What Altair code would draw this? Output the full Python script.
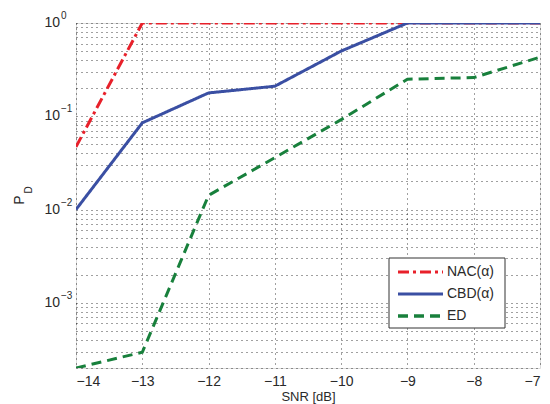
import altair as alt
import pandas as pd

snr = [-14, -13, -12, -11, -10, -9, -8, -7]
nac = [0.047, 1.0, 1.0, 1.0, 1.0, 1.0, 1.0, 1.0]
cbd = [0.0100, 0.085, 0.178, 0.21, 0.50, 1.0, 1.0, 1.0]
ed = [0.000200, 0.000295, 0.0142, 0.036, 0.092, 0.25, 0.26, 0.43]

series = ["NAC(\u03b1)", "CBD(\u03b1)", "ED"]
colors = ["#e8202a", "#3a4fa3", "#18803c"]
dashes = [[11, 4, 3, 4], [1, 0], [10, 6]]
widths = [3, 3, 3.5]

x_ticks = [-14, -13, -12, -11, -10, -9, -8, -7]
y_ticks = [m * 10.0 ** e for e in (-4, -3, -2, -1) for m in range(1, 10)] + [1.0]
y_ticks = [v for v in y_ticks if v >= 2e-4]
label_exps = ["0", "\u22121", "\u22122", "\u22123"]
label_vals = [1.0, 0.1, 0.01, 0.001]

rows = []
for name, vals in zip(series, [nac, cbd, ed]):
    for x, y in zip(snr, vals):
        rows.append({"snr": x, "pd": y, "series": name})
df = pd.DataFrame(rows)

W, H = 464, 345
FONT = "Liberation Sans"
TXT = "#2a2a2a"
xscale = alt.Scale(domain=[-14, -7], nice=False, zero=False)
yscale = alt.Scale(type="log", domain=[2e-4, 1], nice=False)

grid_axis_y = alt.Axis(values=y_ticks, labels=False, ticks=False, domain=False,
                       grid=True, gridColor="#000000", gridDash=[1, 4],
                       gridOpacity=0.75, gridWidth=1, title=None)

lines = alt.Chart(df).mark_line(clip=True).encode(
    x=alt.X("snr:Q", scale=xscale,
            axis=alt.Axis(values=x_ticks, title="SNR [dB]", grid=True,
                          gridColor="#000000", gridDash=[1, 4], gridOpacity=0.75,
                          labelFontSize=14, titleFontSize=13, titleFontWeight="normal",
                          labelColor=TXT, titleColor=TXT,
                          ticks=False, domain=False, labelPadding=6, titlePadding=2,
                          labelFont=FONT, titleFont=FONT)),
    y=alt.Y("pd:Q", scale=yscale, axis=grid_axis_y),
    color=alt.Color("series:N", scale=alt.Scale(domain=series, range=colors), legend=None),
    strokeDash=alt.StrokeDash("series:N", scale=alt.Scale(domain=series, range=dashes),
                              legend=None),
    strokeWidth=alt.StrokeWidth("series:N", scale=alt.Scale(domain=series, range=widths),
                                legend=None),
    detail="series:N",
)

lab_df = pd.DataFrame({"v": label_vals, "e": label_exps})
one = pd.DataFrame({"k": [0]})

ten = alt.Chart(lab_df).mark_text(align="right", baseline="middle", fontSize=14,
                                  font=FONT, color=TXT).encode(
    x=alt.value(-16), y=alt.Y("v:Q", scale=yscale), text=alt.value("10"))
exp = alt.Chart(lab_df).mark_text(align="left", baseline="middle", fontSize=10,
                                  font=FONT, color=TXT, dy=-7).encode(
    x=alt.value(-15), y=alt.Y("v:Q", scale=yscale), text="e:N")

title_p = alt.Chart(one).mark_text(angle=270, fontSize=14, font=FONT, color=TXT).encode(
    x=alt.value(-56), y=alt.value(177), text=alt.value("P"))
title_d = alt.Chart(one).mark_text(angle=270, fontSize=10, font=FONT, color=TXT).encode(
    x=alt.value(-47), y=alt.value(167), text=alt.value("D"))

# legend box
LX0, LX1, LY0, LY1 = 313, 429, 235, 305
leg_box = alt.Chart(one).mark_rect(fill="white", stroke="#333333", strokeWidth=1).encode(
    x=alt.value(LX0), x2=alt.value(LX1), y=alt.value(LY0), y2=alt.value(LY1))
leg_layers = [leg_box]
for i, (name, c, d, w) in enumerate(zip(series, colors, dashes, widths)):
    yy = LY0 + 14 + 22 * i
    leg_layers.append(
        alt.Chart(one).mark_rule(color=c, strokeDash=d, strokeWidth=w).encode(
            x=alt.value(LX0 + 9), x2=alt.value(LX0 + 54), y=alt.value(yy)))
    leg_layers.append(
        alt.Chart(one).mark_text(align="left", baseline="middle", fontSize=14,
                                 font=FONT, color=TXT).encode(
            x=alt.value(LX0 + 58), y=alt.value(yy), text=alt.value(name)))

chart = alt.layer(lines, ten, exp, title_p, title_d, *leg_layers).properties(
    width=W, height=H,
    padding={"left": 76, "top": 23, "right": 10, "bottom": 36},
    autosize=alt.AutoSizeParams(type="none"),
).configure_view(stroke="#333333", strokeWidth=1.2).configure(background="white")

chart.save("out.html", embed_options={"renderer": "svg", "actions": False})
